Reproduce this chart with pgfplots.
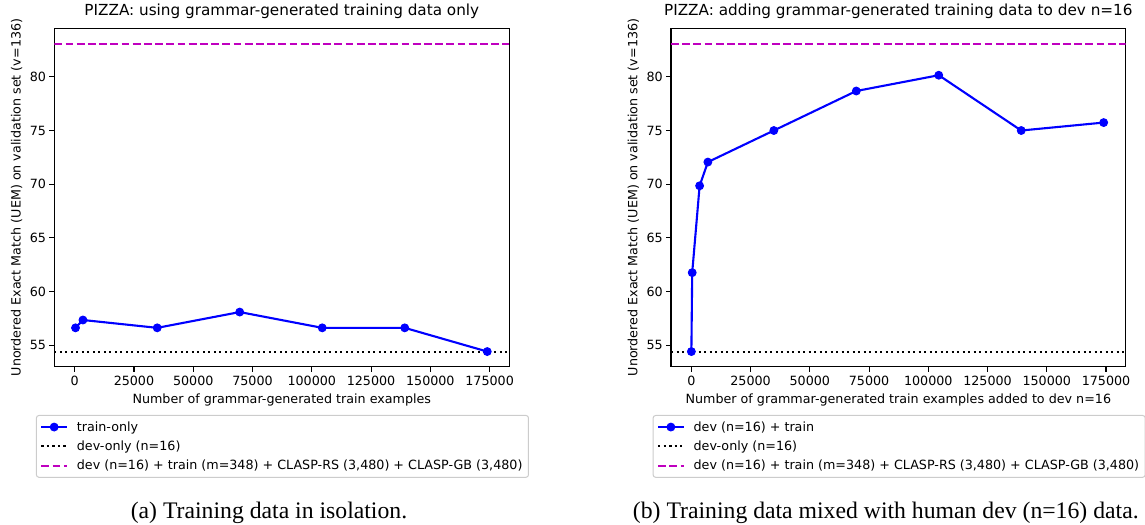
\documentclass[border=0pt]{standalone}
\usepackage{pgfplots}
\pgfplotsset{compat=1.18}
\usepackage{fontspec}
\setmainfont{DejaVu Sans}
\newfontfamily\capfont{Liberation Serif}
\definecolor{mplmag}{rgb}{0.75,0,0.75}
\definecolor{legframe}{rgb}{0.8,0.8,0.8}
\newcommand{\tickfont}{\fontsize{12.75}{15.3}\selectfont}
\newcommand{\titlefont}{\fontsize{15.3}{18.4}\selectfont}
\pgfplotsset{
  mystyle/.style={
    scale only axis, width=455bp, height=338.4bp,
    xmin=-8600, xmax=183300, ymin=53.0, ymax=84.52,
    xtick={0,25000,...,175000}, ytick={55,60,...,80},
    scaled x ticks=false, scaled y ticks=false,
    /pgf/number format/fixed,
    /pgf/number format/1000 sep={},
    /pgf/number format/assume math mode=true,
    tick align=outside, tick pos=left,
    major tick length=4.8bp,
    every tick/.append style={black, line width=1.1bp},
    axis line style={line width=1.1bp},
    tick label style={font=\tickfont},
    xticklabel style={yshift=-1.5bp},
    label style={font=\tickfont},
    title style={font=\titlefont, at={(axis description cs:0.5,1.0216)}, anchor=base},
    xlabel style={at={(axis description cs:0.5,-0.1102)}, anchor=base},
    ylabel style={at={(axis description cs:-0.0826,0.5)}, anchor=center},
    legend style={at={(axis description cs:-0.0404,-0.1427)}, anchor=north west, draw=legframe, line width=1bp, rounded corners=2.5bp, font=\tickfont, inner xsep=4bp, inner ysep=4bp, row sep=4.2bp, cells={anchor=west},
      /tikz/every odd column/.append style={column sep=7bp}},
    legend cell align=left,
    legend image code/.code={\draw[#1, mark repeat=2, mark phase=2] plot coordinates {(0bp,0bp) (12.7bp,0bp) (25.4bp,0bp)};},
  },
  blueline/.style={color=blue, line width=2.1bp, mark=*, mark size=3.9bp, mark options={solid, fill=blue, draw=blue, line width=1bp}},
  dotline/.style={color=black, line width=2.1bp, dash pattern=on 2.1bp off 3.4bp},
  dashline/.style={color=mplmag, line width=2.1bp, dash pattern=on 7.8bp off 3.4bp},
}
\begin{document}
\begin{tikzpicture}
\useasboundingbox (0,0) rectangle (1145bp,-525bp);
\begin{axis}[mystyle, at={(54.3bp,-366.7bp)}, anchor=south west,
  title={PIZZA: using grammar-generated training data only},
  xlabel={Number of grammar-generated train examples},
  ylabel={Unordered Exact Match (UEM) on validation set (v=136)}]
\addplot[blueline] coordinates {(348,56.62) (3480,57.35) (34800,56.62) (69600,58.09) (104400,56.62) (139200,56.62) (174000,54.41)};
\addlegendentry{train-only}
\addplot[dotline] coordinates {(-8600,54.41) (183300,54.41)};
\addlegendentry{dev-only (n=16)}
\addplot[dashline] coordinates {(-8600,83.09) (183300,83.09)};
\addlegendentry{dev (n=16) + train (m=348) + CLASP-RS (3,480) + CLASP-GB (3,480)}
\end{axis}
\begin{axis}[mystyle, at={(671bp,-366.7bp)}, anchor=south west, width=454.7bp,
  title={PIZZA: adding grammar-generated training data to dev n=16},
  xlabel={Number of grammar-generated train examples added to dev n=16},
  ylabel={Unordered Exact Match (UEM) on validation set (v=136)}]
\addplot[blueline] coordinates {(0,54.41) (348,61.76) (3480,69.85) (6960,72.06) (34800,75.0) (69600,78.68) (104400,80.15) (139200,75.0) (174000,75.74)};
\addlegendentry{dev (n=16) + train}
\addplot[dotline] coordinates {(-8600,54.41) (183300,54.41)};
\addlegendentry{dev-only (n=16)}
\addplot[dashline] coordinates {(-8600,83.09) (183300,83.09)};
\addlegendentry{dev (n=16) + train (m=348) + CLASP-RS (3,480) + CLASP-GB (3,480)}
\end{axis}
\node[anchor=base, font=\capfont\fontsize{23.8}{28}\selectfont] at (269bp,-518bp) {(a) Training data in isolation.};
\node[anchor=base, font=\capfont\fontsize{23.8}{28}\selectfont] at (885.8bp,-518bp) {(b) Training data mixed with human dev (n=16) data.};
\end{tikzpicture}
\end{document}
